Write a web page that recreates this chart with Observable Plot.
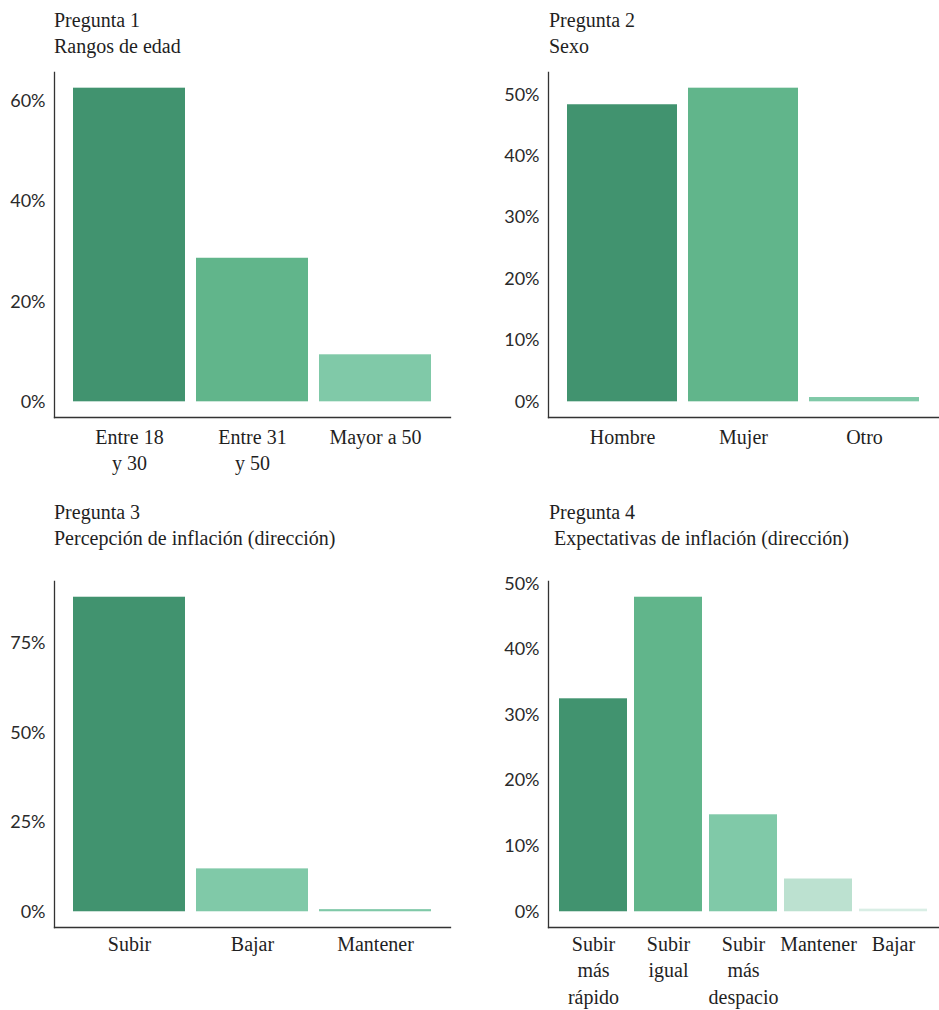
<!DOCTYPE html>
<html><head><meta charset="utf-8">
<script src="https://cdn.jsdelivr.net/npm/d3@7"></script>
<script src="https://cdn.jsdelivr.net/npm/@observablehq/plot@0.6"></script>
<style>
body{margin:0;background:#fff;}
#root{position:relative;width:939px;height:1010px;overflow:hidden;background:#fff;}
.panel{position:absolute;}
.title{position:absolute;font-family:"Liberation Serif",serif;font-size:20px;line-height:26px;color:#1f1f1f;white-space:pre;}
.panel svg{position:absolute;left:0;}
</style></head><body><div id="root"></div>
<script>
// ---- Data ----
const q1Title = "Pregunta 1";
const q1Subtitle = "Rangos de edad";
const q1Categories = ["Entre 18\ny 30", "Entre 31\ny 50", "Mayor a 50"];
const q1Values = [62.7, 28.7, 9.4];
const q1Ticks = [0, 20, 40, 60];

const q2Title = "Pregunta 2";
const q2Subtitle = "Sexo";
const q2Categories = ["Hombre", "Mujer", "Otro"];
const q2Values = [48.4, 51.1, 0.7];
const q2Ticks = [0, 10, 20, 30, 40, 50];

const q3Title = "Pregunta 3";
const q3Subtitle = "Percepción de inflación (dirección)";
const q3Categories = ["Subir", "Bajar", "Mantener"];
const q3Values = [88.0, 12.0, 0.6];
const q3Ticks = [0, 25, 50, 75];

const q4Title = "Pregunta 4";
const q4Subtitle = " Expectativas de inflación (dirección)";
const q4Categories = ["Subir\nmás\nrápido", "Subir\nigual", "Subir\nmás\ndespacio", "Mantener", "Bajar"];
const q4Values = [32.5, 48.0, 14.8, 5.0, 0.4];
const q4Ticks = [0, 10, 20, 30, 40, 50];

// ---- Styles ----
const green = {dark: "#41936f", mid: "#61b58b", light: "#80c9a8", lighter: "#bce1d0", lightest: "#d9eee5"};
const q1Colors = [green.dark, green.mid, green.light];
const q2Colors = [green.dark, green.mid, green.light];
const q3Colors = [green.dark, green.light, green.light];
const q4Colors = [green.dark, green.mid, green.light, green.lighter, green.lightest];

const panels = [
  {title: q1Title, subtitle: q1Subtitle, cats: q1Categories, vals: q1Values, ticks: q1Ticks, colors: q1Colors,
   left: 0, top: 0, width: 470, titleLeft: 54, titleTop: 7, svgTop: 60, height: 430,
   mL: 54, mR: 20, mT: 12, mB: 73, xPad: 7},
  {title: q2Title, subtitle: q2Subtitle, cats: q2Categories, vals: q2Values, ticks: q2Ticks, colors: q2Colors,
   left: 470, top: 0, width: 469, titleLeft: 79, titleTop: 7, svgTop: 60, height: 430,
   mL: 78, mR: 0, mT: 12, mB: 73, xPad: 7},
  {title: q3Title, subtitle: q3Subtitle, cats: q3Categories, vals: q3Values, ticks: q3Ticks, colors: q3Colors,
   left: 0, top: 490, width: 470, titleLeft: 54, titleTop: 9, svgTop: 60, height: 460,
   mL: 54, mR: 20, mT: 31, mB: 83, xPad: 4},
  {title: q4Title, subtitle: q4Subtitle, cats: q4Categories, vals: q4Values, ticks: q4Ticks, colors: q4Colors,
   left: 470, top: 490, width: 469, titleLeft: 79, titleTop: 9, svgTop: 60, height: 460,
   mL: 78, mR: 0, mT: 31, mB: 83, xPad: 4}
];

const root = document.getElementById("root");
for (const p of panels) {
  const div = document.createElement("div");
  div.className = "panel";
  div.style.left = p.left + "px";
  div.style.top = p.top + "px";
  div.style.width = p.width + "px";
  div.style.height = (p.svgTop + p.height) + "px";
  const t = document.createElement("div");
  t.className = "title";
  t.style.left = p.titleLeft + "px";
  t.style.top = p.titleTop + "px";
  t.textContent = p.title + "\n" + p.subtitle;
  div.appendChild(t);

  const data = p.cats.map((c, i) => ({cat: c, value: p.vals[i]}));
  const M = d3.max(p.vals);
  const chart = Plot.plot({
    width: p.width,
    height: p.height,
    marginLeft: p.mL, marginRight: p.mR, marginTop: p.mT, marginBottom: p.mB,
    style: {background: "white", color: "#222", overflow: "visible"},
    x: {domain: p.cats, paddingInner: 0.09, paddingOuter: 0.15, label: null},
    y: {domain: [-0.05 * M, 1.05 * M], label: null},
    color: {type: "ordinal", domain: p.cats, range: p.colors},
    marks: [
      Plot.barY(data, {x: "cat", y1: 0, y2: "value", fill: "cat"}),
      Plot.frame({anchor: "left", stroke: "#333", strokeWidth: 1.3}),
      Plot.frame({anchor: "bottom", stroke: "#333", strokeWidth: 1.3}),
      Plot.axisY({ticks: p.ticks, tickSize: 0, tickPadding: 9, tickFormat: d => d + "%",
                  fontSize: 18, fontFamily: "Lato", fill: "#2a2a2a"}),
      Plot.axisX({tickSize: 0, tickPadding: p.xPad, fontSize: 20, fontFamily: "Liberation Serif",
                  lineHeight: 1.34, fill: "#1f1f1f"})
    ]
  });
  chart.style.top = p.svgTop + "px";
  div.appendChild(chart);
  root.appendChild(div);
}
</script>
</body></html>
